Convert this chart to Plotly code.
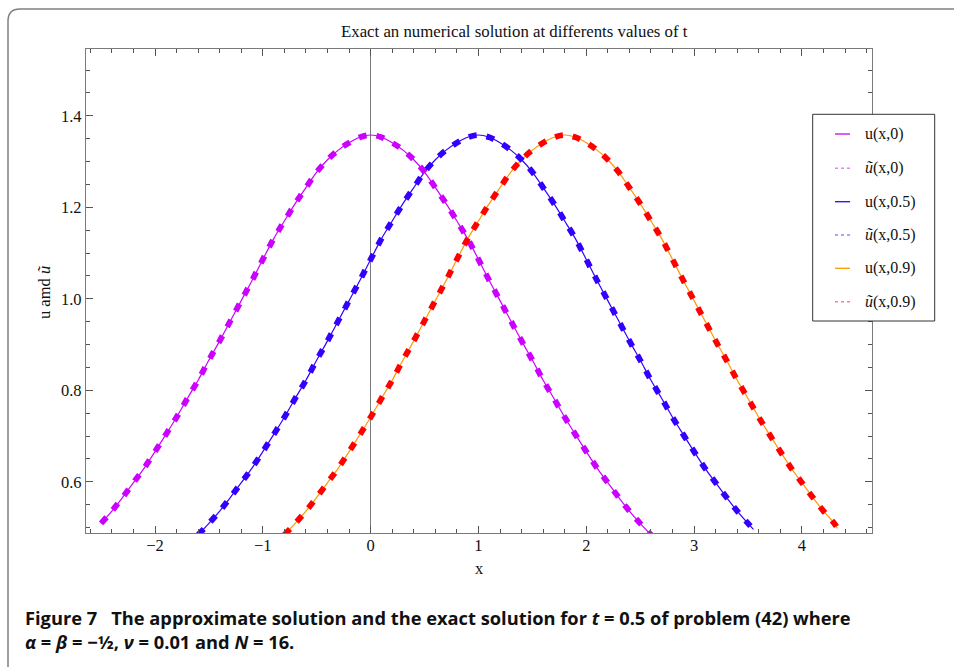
import plotly.graph_objects as go

# ---------------- data ----------------
X_T0 = [-2.5, -2.4, -2.3, -2.2, -2.1, -2.0, -1.9, -1.8, -1.7, -1.6, -1.5, -1.4, -1.3,
        -1.2, -1.1, -1.0, -0.9, -0.8, -0.7, -0.6, -0.5, -0.4, -0.3, -0.2, -0.1, 0.0,
        0.1, 0.2, 0.3, 0.4, 0.5, 0.6, 0.7, 0.8, 0.9, 1.0, 1.1, 1.2, 1.3, 1.4, 1.5, 1.6,
        1.7, 1.8, 1.9, 2.0, 2.1, 2.2, 2.3, 2.4, 2.5, 2.6]
U_T0 = [0.509, 0.536, 0.566, 0.598, 0.630, 0.666, 0.703, 0.741, 0.782, 0.822, 0.866,
        0.908, 0.952, 0.996, 1.040, 1.086, 1.131, 1.170, 1.208, 1.243, 1.277, 1.304,
        1.325, 1.341, 1.353, 1.358, 1.353, 1.341, 1.325, 1.304, 1.277, 1.243, 1.208,
        1.170, 1.131, 1.086, 1.040, 0.996, 0.952, 0.908, 0.866, 0.822, 0.782, 0.741,
        0.703, 0.666, 0.630, 0.598, 0.566, 0.536, 0.509, 0.484]

X_T05 = [-1.6, -1.5, -1.4, -1.3, -1.2, -1.1, -1.0, -0.9, -0.8, -0.7, -0.6, -0.5, -0.4,
         -0.3, -0.2, -0.1, 0.0, 0.1, 0.2, 0.3, 0.4, 0.5, 0.6, 0.7, 0.8, 0.9, 1.0, 1.1,
         1.2, 1.3, 1.4, 1.5, 1.6, 1.7, 1.8, 1.9, 2.0, 2.1, 2.2, 2.3, 2.4, 2.5, 2.6, 2.7,
         2.8, 2.9, 3.0, 3.1, 3.2, 3.3, 3.4, 3.5, 3.55]
U_T05 = [0.484, 0.509, 0.536, 0.566, 0.598, 0.630, 0.666, 0.703, 0.741, 0.782, 0.822,
         0.866, 0.908, 0.952, 0.996, 1.040, 1.086, 1.131, 1.170, 1.208, 1.243, 1.277,
         1.304, 1.325, 1.341, 1.353, 1.358, 1.353, 1.341, 1.325, 1.304, 1.277, 1.243,
         1.208, 1.170, 1.131, 1.086, 1.040, 0.996, 0.952, 0.908, 0.866, 0.822, 0.782,
         0.741, 0.703, 0.666, 0.630, 0.598, 0.566, 0.536, 0.509, 0.496]

X_T09 = [-0.8, -0.7, -0.6, -0.5, -0.4, -0.3, -0.2, -0.1, 0.0, 0.1, 0.2, 0.3, 0.4, 0.5,
         0.6, 0.7, 0.8, 0.9, 1.0, 1.1, 1.2, 1.3, 1.4, 1.5, 1.6, 1.7, 1.8, 1.9, 2.0, 2.1,
         2.2, 2.3, 2.4, 2.5, 2.6, 2.7, 2.8, 2.9, 3.0, 3.1, 3.2, 3.3, 3.4, 3.5, 3.6, 3.7,
         3.8, 3.9, 4.0, 4.1, 4.2, 4.3, 4.33]
U_T09 = [0.484, 0.509, 0.536, 0.566, 0.598, 0.630, 0.666, 0.703, 0.741, 0.782, 0.822,
         0.866, 0.908, 0.952, 0.996, 1.040, 1.086, 1.131, 1.170, 1.208, 1.243, 1.277,
         1.304, 1.325, 1.341, 1.353, 1.358, 1.353, 1.341, 1.325, 1.304, 1.277, 1.243,
         1.208, 1.170, 1.131, 1.086, 1.040, 0.996, 0.952, 0.908, 0.866, 0.822, 0.782,
         0.741, 0.703, 0.666, 0.630, 0.598, 0.566, 0.536, 0.509, 0.498]

LEGEND_LABELS = ["u(x,0)", "<i>ũ</i>(x,0)", "u(x,0.5)", "<i>ũ</i>(x,0.5)",
                 "u(x,0.9)", "<i>ũ</i>(x,0.9)"]
X_TICKS = [-2, -1, 0, 1, 2, 3, 4]
Y_TICKS = [0.6, 0.8, 1.0, 1.2, 1.4]

# ---------------- figure ----------------
W, H = 954, 667
L, R, T, B = 86, 872, 49, 533
SERIF = "Liberation Serif, Times New Roman, serif"
TXT = "#111111"


def px(xp):
    return (xp - L) / (R - L)


def py(yp):
    return (B - yp) / (B - T)


MAG = "#cc00ff"
BLUE = "#3300ff"
ORANGE = "#ff9900"
RED = "#ff0000"

fig = go.Figure()

series = [
    (X_T0, U_T0, MAG, MAG, LEGEND_LABELS[0], LEGEND_LABELS[1]),
    (X_T05, U_T05, BLUE, BLUE, LEGEND_LABELS[2], LEGEND_LABELS[3]),
    (X_T09, U_T09, ORANGE, RED, LEGEND_LABELS[4], LEGEND_LABELS[5]),
]
for xs, ys, solid_c, dash_c, n1, n2 in series:
    fig.add_trace(go.Scatter(x=xs, y=ys, mode="lines", name=n1, showlegend=False,
                             line=dict(color=solid_c, width=1.2, shape="spline"),
                             hoverinfo="skip"))
for xs, ys, solid_c, dash_c, n1, n2 in series:
    fig.add_trace(go.Scatter(x=xs, y=ys, mode="lines", name=n2, showlegend=False,
                             line=dict(color=dash_c, width=5.8, dash="8px,10px",
                                       shape="spline"),
                             hoverinfo="skip"))

axis_common = dict(
    showgrid=False, showline=True, linecolor="#7a7a7a", linewidth=1.3,
    mirror="ticks", ticks="inside", ticklen=7, tickwidth=1, tickcolor="#555555",
    tickfont=dict(family=SERIF, size=16.5, color=TXT),
)

fig.update_layout(
    width=W, height=H,
    margin=dict(l=L, r=W - R, t=T, b=H - B, pad=0),
    paper_bgcolor="white", plot_bgcolor="white",
    showlegend=False,
    xaxis=dict(range=[-2.64, 4.65], tickvals=X_TICKS,
               zeroline=True, zerolinecolor="#7a7a7a", zerolinewidth=1.3,
               ticklabelstandoff=-3,
               minor=dict(dtick=0.2, tick0=0, ticks="inside", ticklen=4,
                          tickcolor="#555555", showgrid=False),
               **axis_common),
    yaxis=dict(range=[0.488, 1.546], tickvals=Y_TICKS, tickformat=".1f",
               zeroline=False,
               minor=dict(dtick=0.05, tick0=0, ticks="inside", ticklen=4,
                          tickcolor="#555555", showgrid=False),
               **axis_common),
)

# ---------------- legend (drawn as a framed key) ----------------
fig.add_shape(type="rect", xref="paper", yref="paper",
              x0=px(812.7), x1=px(934.7), y0=py(321), y1=py(114.3),
              fillcolor="white", line=dict(color="#333333", width=1), layer="above")
leg_styles = [
    dict(color=MAG, width=1.3),
    dict(color="#e680ff", width=1.6, dash="dot"),
    dict(color=BLUE, width=1.3),
    dict(color="#9980ff", width=1.6, dash="dot"),
    dict(color=ORANGE, width=1.3),
    dict(color="#ff8080", width=1.6, dash="dot"),
]
leg_y = [134.0, 168.3, 201.7, 235.0, 268.3, 301.7]
for lab, st, yy in zip(LEGEND_LABELS, leg_styles, leg_y):
    fig.add_shape(type="line", xref="paper", yref="paper",
                  x0=px(835), x1=px(850), y0=py(yy), y1=py(yy), line=st, layer="above")
    fig.add_annotation(xref="paper", yref="paper", x=px(863), y=py(yy),
                       xanchor="left", yanchor="middle", showarrow=False, text=lab,
                       font=dict(family=SERIF, size=16, color=TXT))

# ---------------- title, axis labels, caption ----------------
ann = [
    dict(text="Exact an numerical solution at differents values of t",
         x=px(514), y=py(31), font=dict(family=SERIF, size=16.8, color=TXT)),
    dict(text="x", x=px(479), y=py(568), font=dict(family=SERIF, size=16.5, color=TXT)),
    dict(text="u amd <i>ũ</i>", x=px(44), y=py(293), textangle=-90,
         font=dict(family=SERIF, size=16.5, color=TXT)),
    dict(text="<b>Figure 7\u2002 The approximate solution and the exact solution for "
              "<i>t</i> = 0.5 of problem (42) where</b>",
         x=px(23), y=py(617), xanchor="left",
         font=dict(family="Open Sans, sans-serif", size=18.3, color=TXT)),
    dict(text="<b><i>α</i> = <i>β</i> = −½, <i>ν</i> = 0.01 and <i>N</i> = 16.</b>",
         x=px(23), y=py(641), xanchor="left",
         font=dict(family="Open Sans, sans-serif", size=18.3, color=TXT)),
]
for a in ann:
    a.setdefault("xanchor", "center")
    fig.add_annotation(xref="paper", yref="paper", showarrow=False,
                       yanchor="middle", **a)

# rounded frame around the figure (top and left edges)
frame_path = (f"M {px(8)},{py(667)} L {px(8)},{py(21)} "
              f"Q {px(8)},{py(9)} {px(20)},{py(9)} L {px(954)},{py(9)}")
fig.add_shape(type="path", path=frame_path, xref="paper", yref="paper",
              line=dict(color="#808080", width=1.5))

fig.write_html("out.html")
